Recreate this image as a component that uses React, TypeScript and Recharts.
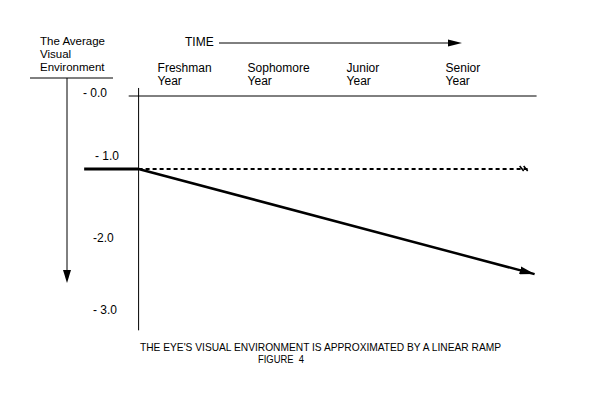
import { LineChart, Line, XAxis, YAxis, ReferenceLine } from "recharts";

const YEARS = ["Freshman", "Sophomore", "Junior", "Senior"];
const YEAR_TICKS = [0, 1, 2, 3];
const Y_TICKS = [0, -1, -2, -3];
const Y_TICK_LABELS = ["- 0.0", "- 1.0", "-2.0", "- 3.0"];

// time in school years (0 = start of freshman year), visual environment level
const LEAD_T = [-0.55, 0];
const LEAD_V = [-1, -1];
const RAMP_T = [0, 4];
const RAMP_V = [-1, -2.44];
const FLAT_T = [0, 3.93];
const FLAT_V = [-1, -1];

const toRows = (ts: number[], vs: number[]) => ts.map((t, i) => ({ t, v: vs[i] }));

const FONT = "'Liberation Sans', Arial, sans-serif";

// hand-placed label nudges, as in the original figure
const Y_NUDGE = [
  { x: 83, dy: 1 },
  { x: 95, dy: -9 },
  { x: 93, dy: -0.5 },
  { x: 93, dy: -1 },
];

const YTick = ({ y, index }: any) => {
  const n = Y_NUDGE[index] ?? { x: 93, dy: 0 };
  return (
    <text x={n.x} y={y + n.dy} fontSize={12} fontFamily={FONT} fill="#000" style={{ whiteSpace: "pre" }}>
      {Y_TICK_LABELS[index]}
    </text>
  );
};

const XTick = ({ x, index }: any) => {
  const dx = index === 0 ? 19 : 10;
  return (
    <g fontSize={12} fontFamily={FONT} fill="#000">
      <text x={x + dx} y={72}>{YEARS[index]}</text>
      <text x={x + dx} y={85}>Year</text>
    </g>
  );
};

export default function App() {
  return (
    <div style={{ position: "absolute", left: 0, top: 0, width: 600, height: 400, background: "#fff" }}>
      <svg width={0} height={0} style={{ position: "absolute" }}>
        <defs>
          <marker id="rampHead" viewBox="0 0 15 8" refX={15} refY={4} markerWidth={15} markerHeight={8}
            markerUnits="userSpaceOnUse" orient="auto">
            <path d="M0,0 L15,4 L0,8 Z" fill="#000" />
          </marker>
          <marker id="hatchEnd" viewBox="0 0 12 8" refX={10} refY={4} markerWidth={12} markerHeight={8}
            markerUnits="userSpaceOnUse" orient="auto">
            <path d="M2,1 L6,6 M6,1 L10,6" stroke="#000" strokeWidth={1.6} fill="none" />
          </marker>
        </defs>
      </svg>

      <LineChart width={600} height={400} margin={{ top: 8.4, right: 6, bottom: 4.7, left: 0 }}>
        <XAxis type="number" dataKey="t" domain={[-1.4, 4.6]} orientation="top" mirror
          ticks={YEAR_TICKS} interval={0} axisLine={false} tickLine={false} tick={XTick} />
        <YAxis type="number" dataKey="v" domain={[-4.1, 1.2]} mirror
          ticks={Y_TICKS} interval={0} axisLine={false} tickLine={false} tick={YTick} />

        <ReferenceLine segment={[{ x: 0, y: 0.11 }, { x: 0, y: -3.21 }]} stroke="#000" strokeWidth={1} />
        <ReferenceLine segment={[{ x: -0.1, y: 0 }, { x: 4.02, y: 0 }]} stroke="#000" strokeWidth={1} />

        <Line data={toRows(LEAD_T, LEAD_V)} dataKey="v" stroke="#000" strokeWidth={3}
          dot={false} activeDot={false} isAnimationActive={false} />
        <Line data={toRows(FLAT_T, FLAT_V)} dataKey="v" stroke="#000" strokeWidth={2}
          strokeDasharray="4 3" markerEnd="url(#hatchEnd)"
          dot={false} activeDot={false} isAnimationActive={false} />
        <Line data={toRows(RAMP_T, RAMP_V)} dataKey="v" stroke="#000" strokeWidth={2.5}
          markerEnd="url(#rampHead)"
          dot={false} activeDot={false} isAnimationActive={false} />
      </LineChart>

      <svg width={600} height={400} style={{ position: "absolute", left: 0, top: 0, pointerEvents: "none" }}
        fontFamily={FONT} fill="#000">
        <text x={40} y={45} fontSize={11.5}>The Average</text>
        <text x={40} y={58} fontSize={11.5}>Visual</text>
        <text x={40} y={71} fontSize={11.5}>Environment</text>
        <line x1={30} y1={78} x2={113} y2={78} stroke="#000" strokeWidth={1} />
        <line x1={67} y1={78} x2={67} y2={272} stroke="#000" strokeWidth={1} />
        <path d="M63,270 L71,270 L67,283 Z" fill="#000" />

        <text x={185} y={46} fontSize={12}>TIME</text>
        <line x1={219} y1={43} x2={450} y2={43} stroke="#000" strokeWidth={1} />
        <path d="M448,39.5 L462,43 L448,46.5 Z" fill="#000" />

        <text x={140} y={351} fontSize={11} textLength={361} lengthAdjust="spacingAndGlyphs">
          THE EYE'S VISUAL ENVIRONMENT IS APPROXIMATED BY A LINEAR RAMP
        </text>
        <text x={258} y={363} fontSize={11} textLength={46} lengthAdjust="spacingAndGlyphs"
          style={{ whiteSpace: "pre" }}>
          FIGURE  4
        </text>
      </svg>
    </div>
  );
}
